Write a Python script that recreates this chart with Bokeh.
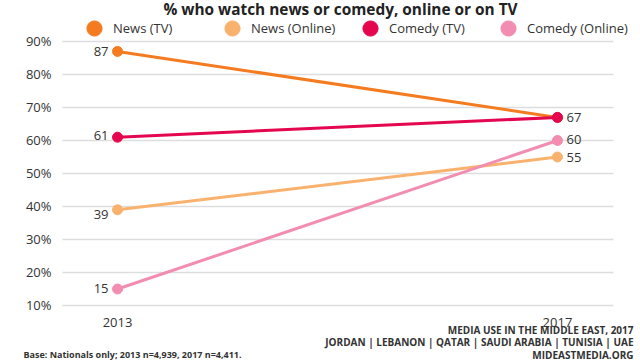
from bokeh.plotting import figure
from bokeh.models import Range1d, Legend, LegendItem, Label
from bokeh.core.properties import value
from bokeh.embed import file_html
from bokeh.resources import INLINE

# ---- data ----
years = [2013, 2017]
year_labels = ["2013", "2017"]
series_names = ["News (TV)", "News (Online)", "Comedy (TV)", "Comedy (Online)"]
news_tv = [87, 67]
news_online = [39, 55]
comedy_tv = [61, 67]
comedy_online = [15, 60]
y_ticks = [10, 20, 30, 40, 50, 60, 70, 80, 90]
y_tick_labels = ["10%", "20%", "30%", "40%", "50%", "60%", "70%", "80%", "90%"]

title_text = "% who watch news or comedy, online or on TV"
footer_left = "Base: Nationals only; 2013 n=4,939, 2017 n=4,411."
footer_right = ["MEDIA USE IN THE MIDDLE EAST, 2017",
                "JORDAN | LEBANON | QATAR | SAUDI ARABIA | TUNISIA | UAE",
                "MIDEASTMEDIA.ORG"]

# ---- styles ----
colors = ["#F47B20", "#F9B26E", "#E4064E", "#F28DB1"]
left_dy = [0, 5, -2, 0]          # label vertical nudges (px)
right_dy = [0, 1, 0, -1]
show_right = [False, True, True, True]
FONT = "Open Sans"
TXT = "#333333"
GRID_X = (2012.5, 2017.509)     # horizontal extent of the gridlines

values = [news_tv, news_online, comedy_tv, comedy_online]

p = figure(width=640, height=360, output_backend="svg", toolbar_location=None,
           x_range=Range1d(2011.936, 2017.755), y_range=Range1d(-6.667, 102.424),
           min_border=0, x_axis_type=None, y_axis_type=None)
p.outline_line_color = None
p.background_fill_color = "white"
p.border_fill_color = "white"
p.xgrid.visible = False
p.ygrid.visible = False

# gridlines
p.segment(x0=[GRID_X[0]] * len(y_ticks), x1=[GRID_X[1]] * len(y_ticks), y0=y_ticks, y1=y_ticks,
          line_color="#dddddd", line_width=1.3)
# y tick labels
p.text([GRID_X[0]] * len(y_ticks), y_ticks, text=y_tick_labels, text_align="right",
       text_baseline="middle", x_offset=-11, text_font=value(FONT), text_font_size="13px",
       text_color=TXT)
# x tick labels
p.text(years, [y_ticks[0]] * len(years), text=year_labels, text_align="center",
       text_baseline="middle", y_offset=17, text_font=value(FONT), text_font_size="13px",
       text_color=TXT)

legend_items = []
for name, vals, col in zip(series_names, values, colors):
    p.line(years, vals, line_color=col, line_width=3)
    r = p.scatter(years, vals, size=10, fill_color=col, line_color=col)
    legend_items.append(LegendItem(label=name, renderers=[r]))

for vals, dy0, dy1, show in zip(values, left_dy, right_dy, show_right):
    p.text([years[0]], [vals[0]], text=[str(vals[0])], text_align="right", text_baseline="middle",
           x_offset=-9, y_offset=dy0, text_font=value(FONT), text_font_size="13px", text_color=TXT)
    if show:
        p.text([years[1]], [vals[1]], text=[str(vals[1])], text_align="left", text_baseline="middle",
               x_offset=9, y_offset=dy1, text_font=value(FONT), text_font_size="13px", text_color=TXT)

legend = Legend(items=legend_items, orientation="horizontal", location=(75, 313),
                glyph_width=38, glyph_height=38, label_standoff=-7, label_width=100, spacing=0,
                padding=0, margin=0, border_line_alpha=0, background_fill_alpha=0,
                label_text_font=FONT, label_text_font_size="13px", label_text_color=TXT)
p.add_layout(legend)

p.add_layout(Label(x=340, y=351, x_units="screen", y_units="screen", text=title_text,
                   text_align="center", text_baseline="middle", text_font=FONT,
                   text_font_size="15.4px", text_font_style="bold", text_color="#222222"))

p.add_layout(Label(x=23, y=6, x_units="screen", y_units="screen", text=footer_left,
                   text_align="left", text_baseline="middle", text_font=FONT,
                   text_font_size="9px", text_font_style="bold", text_color=TXT))
for i, line in enumerate(footer_right):
    p.add_layout(Label(x=633, y=31 - 12.5 * i, x_units="screen", y_units="screen", text=line,
                       text_align="right", text_baseline="middle", text_font=FONT,
                       text_font_size="10px", text_font_style="bold", text_color=TXT))

open("out.html", "w").write(file_html(p, INLINE))
